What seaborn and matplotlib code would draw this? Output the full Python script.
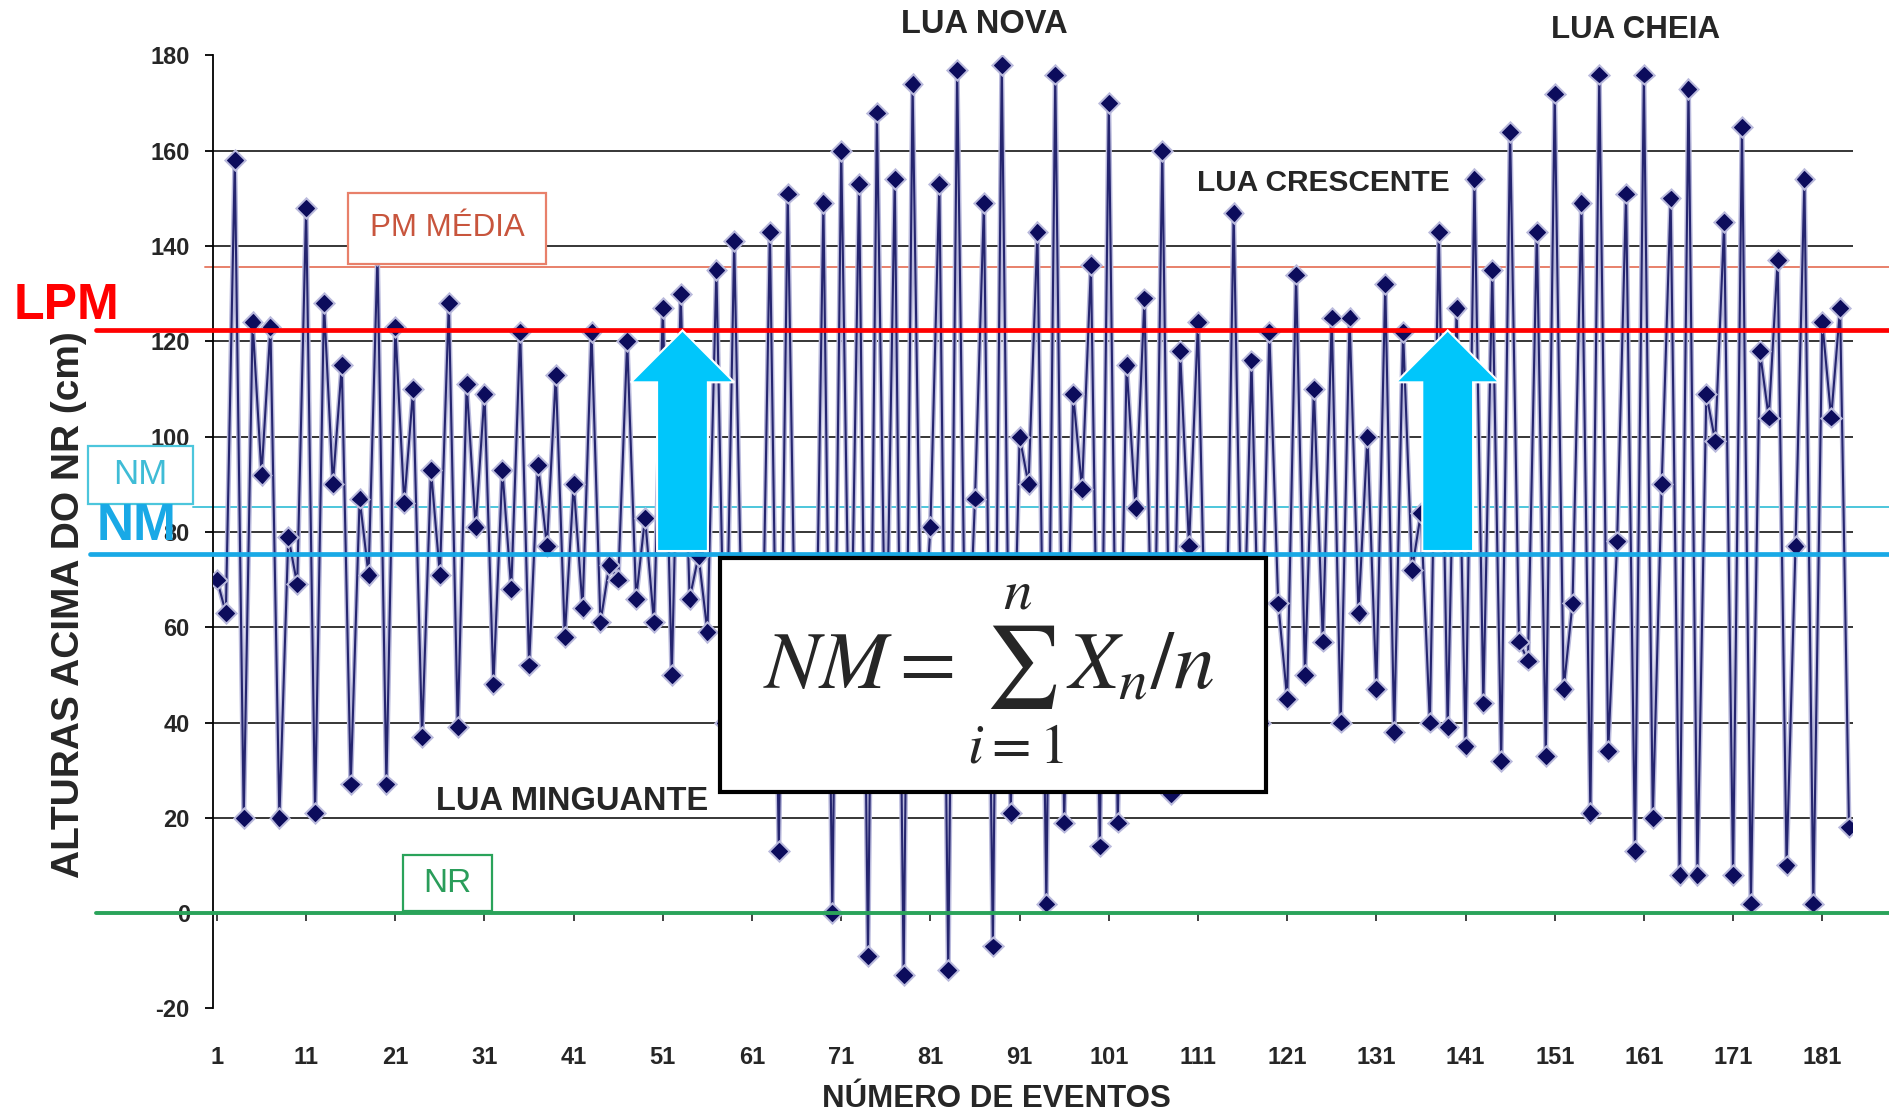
import matplotlib
matplotlib.use("Agg")
import matplotlib.pyplot as plt
import matplotlib.patheffects as pe
from matplotlib.patches import FancyArrow, Rectangle
import pandas as pd
import seaborn as sns

# =============================================================================
# DATA
# =============================================================================

EVENTOS = list(range(1, 185))
ALTURAS = [
    70, 63, 158, 20, 124, 92, 123, 20, 79, 69,          # 1-10
    148, 21, 128, 90, 115, 27, 87, 71, 138, 27,         # 11-20
    123, 86, 110, 37, 93, 71, 128, 39, 111, 81,         # 21-30
    109, 48, 93, 68, 122, 52, 94, 77, 113, 58,          # 31-40
    90, 64, 122, 61, 73, 70, 120, 66, 83, 61,           # 41-50
    127, 50, 130, 66, 75, 59, 135, 40, 141, 45,         # 51-60
    60, 35, 143, 13, 151, 35, 65, 30, 149, 0,           # 61-70
    160, 40, 153, -9, 168, 45, 154, -13, 174, 50,       # 71-80
    81, 153, -12, 177, 40, 87, 149, -7, 178, 21,        # 81-90
    100, 90, 143, 2, 176, 19, 109, 89, 136, 14,         # 91-100
    170, 19, 115, 85, 129, 35, 160, 25, 118, 77,        # 101-110
    124, 40, 60, 35, 147, 45, 116, 40, 122, 65,         # 111-120
    45, 134, 50, 110, 57, 125, 40, 125, 63, 100,        # 121-130
    47, 132, 38, 122, 72, 84, 40, 143, 39, 127,         # 131-140
    35, 154, 44, 135, 32, 164, 57, 53, 143, 33,         # 141-150
    172, 47, 65, 149, 21, 176, 34, 78, 151, 13,         # 151-160
    176, 20, 90, 150, 8, 173, 8, 109, 99, 145,          # 161-170
    8, 165, 2, 118, 104, 137, 10, 77, 154, 2,           # 171-180
    124, 104, 127, 18,                                   # 181-184
]
X_TICKS = list(range(1, 182, 10))
Y_TICKS = list(range(-20, 181, 20))

NIVEL_LPM = 122.3
NIVEL_PM_MEDIA = 135.7
NIVEL_NM_BOX = 85.2
NIVEL_NM = 75.3
NIVEL_NR = 0

# arrows: (event at centre, base level, tip level)
SETAS = [(53.2, 76.0, NIVEL_LPM), (139.0, 76.0, NIVEL_LPM)]

# =============================================================================
# STYLE
# =============================================================================

LINE_COLOR = "#25256f"
MARKER_COLOR = "#0c0c5c"
HALO_COLOR = "#b9b9dc"
RED = "#ff0000"
BLUE = "#19a9e6"
CYAN_THIN = "#4cc6dc"
SALMON = "#e8806a"
GREEN = "#2aa35a"
ARROW_COLOR = "#00c6fb"

FS_TICK = 17
FS_AXIS = 22.5


def main() -> None:
    sns.set_theme(style="white")
    plt.rcParams["font.family"] = ["Liberation Sans", "DejaVu Sans"]
    plt.rcParams["mathtext.fontset"] = "stix"

    fig = plt.figure(figsize=(18.9, 11.18), dpi=100)
    ax = fig.add_axes([0.1129, 0.098, 0.8673, 0.8524])

    df = pd.DataFrame({"Evento": EVENTOS, "Altura": ALTURAS})
    sns.lineplot(
        data=df, x="Evento", y="Altura", ax=ax,
        color=LINE_COLOR, linewidth=1.5, marker="D", markersize=8,
        markerfacecolor=MARKER_COLOR, markeredgecolor=MARKER_COLOR,
        zorder=3,
    )
    ax.lines[0].set_path_effects(
        [pe.Stroke(linewidth=3.6, foreground=HALO_COLOR), pe.Normal()]
    )

    ax.set_xlim(0.6, 184.4)
    ax.set_ylim(-20, 180)

    # horizontal grid lines (black), none at the frame edges
    for v in Y_TICKS:
        if -20 < v < 180 and v != 0:
            ax.axhline(v, color="black", lw=1.1, zorder=1)

    # reference levels, extended past the axes like in the reference
    def x_frac(px):
        return (px - 177) / 1360

    ax.axhline(NIVEL_PM_MEDIA, xmin=x_frac(170), xmax=x_frac(1568),
               color=SALMON, lw=1.4, zorder=2, clip_on=False)
    ax.axhline(NIVEL_NM_BOX, xmin=x_frac(160), xmax=x_frac(1568),
               color=CYAN_THIN, lw=1.4, zorder=2, clip_on=False)
    ax.axhline(NIVEL_LPM, xmin=x_frac(80), xmax=x_frac(1568),
               color=RED, lw=3.4, zorder=5, clip_on=False)
    ax.axhline(NIVEL_NM, xmin=x_frac(75), xmax=x_frac(1568),
               color=BLUE, lw=3.4, zorder=5, clip_on=False)
    ax.axhline(NIVEL_NR, xmin=x_frac(80), xmax=x_frac(1568),
               color=GREEN, lw=2.8, zorder=5, clip_on=False)

    # arrows
    for xc, y0, y1 in SETAS:
        ax.add_patch(FancyArrow(
            xc, y0, 0, y1 - y0, width=5.7, head_width=11.6,
            head_length=10.9, length_includes_head=True,
            facecolor=ARROW_COLOR, edgecolor="white", lw=1.5, zorder=6,
        ))

    # axes: left spine + bottom ticks on the zero line, labels at the bottom
    for side in ["top", "right"]:
        ax.spines[side].set_visible(False)
    ax.spines["left"].set_color("black")
    ax.spines["left"].set_linewidth(1.3)
    ax.spines["bottom"].set_position(("data", 0))
    ax.spines["bottom"].set_visible(False)
    ax.set_yticks(Y_TICKS)
    ax.set_yticklabels([str(v) for v in Y_TICKS], fontsize=FS_TICK,
                       fontweight="bold")
    ax.tick_params(axis="y", direction="out", length=6, width=1.3,
                   color="black", pad=11, left=True)
    ax.set_xticks(X_TICKS)
    ax.tick_params(axis="x", direction="out", length=6, width=1.3,
                   color="#333333", labelbottom=False, bottom=True)
    ax.set_xlabel("")
    ax.set_ylabel("")

    sec = ax.secondary_xaxis(0)
    sec.set_xticks(X_TICKS)
    sec.set_xticklabels([str(v) for v in X_TICKS], fontsize=FS_TICK,
                        fontweight="bold")
    sec.tick_params(axis="x", length=0, pad=27)
    sec.spines["bottom"].set_visible(False)

    # axis titles
    fig.text(0.5274, 0.017, "NÚMERO DE EVENTOS", fontsize=FS_AXIS,
             fontweight="bold", ha="center", va="center")
    fig.text(0.0363, 0.459, "ALTURAS ACIMA DO NR (cm)", fontsize=28,
             fontweight="bold", ha="center", va="center", rotation=90)

    # moon phase labels
    for txt, x, y, fs in [
        ("LUA NOVA", 817, 20, 23.5),
        ("LUA CHEIA", 1357, 25, 22.5),
        ("LUA CRESCENTE", 1098, 152, 21.5),
        ("LUA MINGUANTE", 475, 665, 23.5),
    ]:
        fig.text(x / 1568, 1 - y / 928, txt, fontsize=fs,
                 fontweight="bold", ha="center", va="center", zorder=5)

    # boxed level names
    for txt, (x0, y0, x1, y1), col, tcol, fs in [
        ("PM MÉDIA", (289, 160, 453, 219), SALMON, "#c8553d", 22.5),
        ("NM", (73, 370, 160, 418), CYAN_THIN, "#3fbcd6", 25),
        ("NR", (334, 710, 408, 756), GREEN, "#2a9d5a", 24),
    ]:
        fig.add_artist(Rectangle(
            (x0 / 1568, 1 - y1 / 928), (x1 - x0) / 1568, (y1 - y0) / 928,
            transform=fig.transFigure, facecolor="white", edgecolor=col,
            lw=1.6, zorder=4,
        ))
        fig.text((x0 + x1) / 2 / 1568, 1 - (y0 + y1) / 2 / 928, txt,
                 fontsize=fs, color=tcol, ha="center", va="center", zorder=5)

    # big level labels
    fig.text(55 / 1568, 1 - 254 / 928, "LPM", fontsize=36, color=RED,
             fontweight="bold", ha="center", va="center", zorder=6)
    fig.text(113 / 1568, 1 - 437 / 928, "NM", fontsize=37, color=BLUE,
             fontweight="bold", ha="center", va="center", zorder=6)

    # formula box
    fig.add_artist(Rectangle(
        (597 / 1568, 1 - 657 / 928), 453 / 1568, 194 / 928,
        transform=fig.transFigure, facecolor="white", edgecolor="black",
        lw=3, zorder=7,
    ))
    fig.text(820 / 1568, 1 - 560 / 928, r"$NM = \sum_{i=1}^{n} X_n/n$",
             fontsize=59, ha="center", va="center", zorder=8)

    fig.savefig("out.png", dpi=100, facecolor="white")
    plt.close(fig)


if __name__ == "__main__":
    main()
